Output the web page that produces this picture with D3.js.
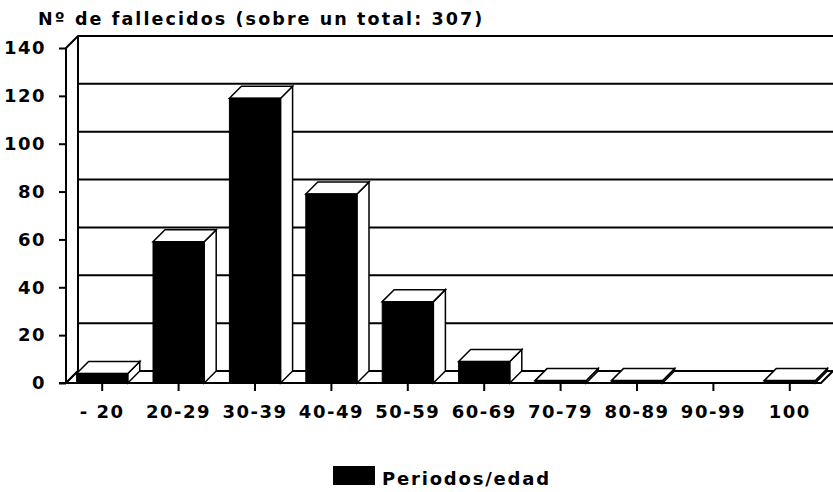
<!DOCTYPE html>
<html>
<head>
<meta charset="utf-8">
<script src="https://cdn.jsdelivr.net/npm/d3@7"></script>
<style>
  body { margin: 0; background: #fff; }
  svg text { font-family: "DejaVu Sans", sans-serif; font-weight: bold; fill: #000; }
</style>
</head>
<body>
<div id="chart"></div>
<script>
// data
let categories = ["- 20", "20-29", "30-39", "40-49", "50-59", "60-69", "70-79", "80-89", "90-99", "100"];
let deaths = [4, 59, 119, 79, 34, 9, 1, 1, 0, 1];
let yTicks = [0, 20, 40, 60, 80, 100, 120, 140];
let titleText = "Nº de fallecidos (sobre un total: 307)";
let legendText = "Periodos/edad";

let width = 833, height = 492;
let dx = 12, dy = 12; // depth of the 3d effect

let svg = d3.select("#chart").append("svg")
  .attr("width", width)
  .attr("height", height);

let x = d3.scaleBand()
  .domain(categories)
  .range([64, 828])
  .paddingInner(0.33)
  .paddingOuter(0.165);

let y = d3.scaleLinear()
  .domain([0, 140])
  .range([383, 48]);

let left = 66, right = 821;
let y0 = y(0), yTop = y(140);

function poly(pts) {
  return "M" + pts.map(p => p.join(",")).join("L") + "Z";
}

// back wall
svg.append("rect")
  .attr("x", left + dx).attr("y", yTop - dy)
  .attr("width", width - left - dx + 2).attr("height", y0 - yTop)
  .attr("fill", "#fff");

// gridlines on the back wall
svg.append("g").selectAll("line")
  .data(yTicks)
  .join("line")
  .attr("x1", left + dx).attr("x2", width)
  .attr("y1", d => y(d) - dy).attr("y2", d => y(d) - dy)
  .attr("stroke", "#000").attr("stroke-width", 2);

svg.append("line")
  .attr("x1", left + dx).attr("x2", left + dx)
  .attr("y1", yTop - dy).attr("y2", y0 - dy)
  .attr("stroke", "#000").attr("stroke-width", 2);

// left wall
svg.append("path")
  .attr("d", poly([[left, y0], [left + dx, y0 - dy], [left + dx, yTop - dy], [left, yTop]]))
  .attr("fill", "#fff").attr("stroke", "#000").attr("stroke-width", 2)
  .attr("stroke-linejoin", "round");

// floor
svg.append("path")
  .attr("d", poly([[left, y0], [left + dx, y0 - dy], [right + dx, y0 - dy], [right, y0]]))
  .attr("fill", "#fff").attr("stroke", "#000").attr("stroke-width", 2);

// bars
let bars = svg.append("g").selectAll("g")
  .data(categories.map((c, i) => ({cat: c, v: deaths[i]})).filter(d => d.v > 0))
  .join("g");

bars.append("path") // right side
  .attr("d", d => {
    let x1 = x(d.cat) + x.bandwidth(), t = y(d.v);
    return poly([[x1, y0], [x1 + dx, y0 - dy], [x1 + dx, t - dy], [x1, t]]);
  })
  .attr("fill", "#fff").attr("stroke", "#000").attr("stroke-width", 1.5);

bars.append("path") // top
  .attr("d", d => {
    let x0 = x(d.cat), x1 = x0 + x.bandwidth(), t = y(d.v);
    return poly([[x0, t], [x0 + dx, t - dy], [x1 + dx, t - dy], [x1, t]]);
  })
  .attr("fill", "#fff").attr("stroke", "#000").attr("stroke-width", 1.5);

bars.append("rect") // front
  .attr("x", d => x(d.cat))
  .attr("y", d => y(d.v))
  .attr("width", x.bandwidth())
  .attr("height", d => y0 - y(d.v))
  .attr("fill", "#000").attr("stroke", "#000").attr("stroke-width", 1);

// y axis
let yAxis = svg.append("g")
  .attr("transform", "translate(" + left + ",0)")
  .call(d3.axisLeft(y).tickValues(yTicks).tickSize(7).tickPadding(13));
yAxis.select(".domain").remove();
yAxis.selectAll(".tick line").attr("stroke", "#000").attr("stroke-width", 2);
yAxis.selectAll("text")
  .style("font-size", "18px")
  .style("letter-spacing", "1.5px");

svg.append("line")
  .attr("x1", left).attr("x2", left)
  .attr("y1", yTop).attr("y2", y0 + 1)
  .attr("stroke", "#000").attr("stroke-width", 2);
svg.append("line")
  .attr("x1", left - 7).attr("x2", right)
  .attr("y1", y0).attr("y2", y0)
  .attr("stroke", "#000").attr("stroke-width", 2);

// x axis
let xAxis = svg.append("g")
  .attr("transform", "translate(0," + y0 + ")")
  .call(d3.axisBottom(x).tickSize(8).tickPadding(14));
xAxis.select(".domain").remove();
xAxis.selectAll(".tick line").attr("stroke", "#000").attr("stroke-width", 2);
xAxis.selectAll("text")
  .style("font-size", "18px")
  .style("letter-spacing", "1.5px")
  .style("white-space", "pre");

// title
svg.append("text")
  .attr("x", 38).attr("y", 25)
  .style("font-size", "17.5px")
  .style("letter-spacing", "2.1px")
  .text(titleText);

// legend
svg.append("rect")
  .attr("x", 333).attr("y", 466)
  .attr("width", 42).attr("height", 19)
  .attr("fill", "#000");
svg.append("text")
  .attr("x", 382).attr("y", 485)
  .style("font-size", "18px")
  .style("letter-spacing", "1.8px")
  .text(legendText);
</script>
</body>
</html>
